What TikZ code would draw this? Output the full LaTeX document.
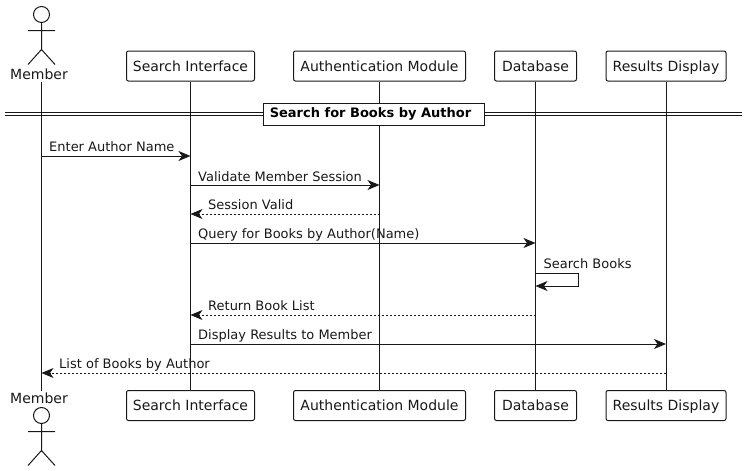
\documentclass[tikz,border=0pt]{standalone}
\usepackage{fontspec}
\setmainfont{DejaVu Sans}
\usetikzlibrary{arrows.meta}
\definecolor{ink}{HTML}{181818}
\pgfdeclarelayer{lines}
\pgfsetlayers{lines,main}
\tikzset{
  x=1pt,y=-1pt,
  partbox/.style={draw=ink,fill=white,rounded corners=2pt,line width=1pt,minimum height=30pt,inner xsep=0pt,inner ysep=0pt,text height=13pt,text depth=3pt,font=\fontsize{14}{16}\selectfont,text=ink},
  actorname/.style={font=\fontsize{14}{16}\selectfont,text=ink,inner sep=0pt},
  msglabel/.style={font=\fontsize{13}{15}\selectfont,text=ink,inner sep=0pt,anchor=base west},
  lifeline/.style={draw=ink,line width=1pt},
  tip/.style={-{Stealth[length=12pt,width=10pt,inset=3.5pt]}},
  msg/.style={draw=ink,line width=1pt,tip},
  reply/.style={draw=ink,line width=.8pt,dash pattern=on 2pt off 2pt,tip},
  stick/.style={draw=ink,line width=1pt},
  dividerbox/.style={draw=ink,fill=white,line width=1pt,minimum width=221pt,minimum height=22pt,inner sep=0pt,font=\fontsize{13}{15}\selectfont\bfseries,text=black},
}
\begin{document}
\begin{tikzpicture}
\useasboundingbox (0,0) rectangle (748,471);
% participants
\node[actorname] (memberTop) at (39,74.5) {Member};
\node[actorname] (memberBot) at (39,398) {Member};
\coordinate (memberLineTop) at (41.5,82);
\coordinate (memberLineBot) at (41.5,390.5);
\node[partbox,minimum width=128pt] (searchTop) at (190.5,66) {Search Interface};
\node[partbox,minimum width=172pt] (authTop) at (379.5,66) {Authentication Module};
\node[partbox,minimum width=82pt] (dbTop) at (535.5,66) {Database};
\node[partbox,minimum width=120pt] (resTop) at (666,66) {Results Display};
\node[partbox,minimum width=128pt] (searchBot) at (190.5,405.5) {Search Interface};
\node[partbox,minimum width=172pt] (authBot) at (379.5,405.5) {Authentication Module};
\node[partbox,minimum width=82pt] (dbBot) at (535.5,405.5) {Database};
\node[partbox,minimum width=120pt] (resBot) at (666,405.5) {Results Display};
% lifelines
\begin{pgfonlayer}{lines}
\path[lifeline] (memberLineTop) -- (memberLineBot);
\path[lifeline] (searchTop) -- (searchBot);
\path[lifeline] (authTop) -- (authBot);
\path[lifeline] (dbTop) -- (dbBot);
\path[lifeline] (resTop) -- (resBot);
\end{pgfonlayer}
% actors
\draw[stick] (41.5,14.5) circle[radius=8];
\draw[stick] (41.5,22.5) -- (41.5,49.5) (28,30.5) -- (55,30.5) (28,64.5) -- (41.5,49.5) -- (55,64.5);
\draw[stick] (41.5,415.5) circle[radius=8];
\draw[stick] (41.5,423.5) -- (41.5,450.5) (28,431.5) -- (55,431.5) (28,465.5) -- (41.5,450.5) -- (55,465.5);
% divider
\coordinate (divL) at (5,114);
\coordinate (divR) at (742,114);
\draw[draw=ink,line width=.8pt] ([yshift=-1.6pt]divL) -- ([yshift=-1.6pt]divR) ([yshift=1.6pt]divL) -- ([yshift=1.6pt]divR);
\node[dividerbox] (divider) at (373.5,114) {Search for Books by Author\hspace*{6pt}};
% rows
\coordinate (r1) at (0,156);
\coordinate (r2) at (0,185);
\coordinate (r3) at (0,214);
\coordinate (r4) at (0,243);
\coordinate (r5a) at (0,273);
\coordinate (r5b) at (0,286);
\coordinate (r6) at (0,315);
\coordinate (r7) at (0,344);
\coordinate (r8) at (0,373);
\coordinate (loopA) at (578.5,273);
\coordinate (loopB) at (578.5,286);
% messages
\draw[msg] (memberLineTop |- r1) -- (searchTop |- r1);
\draw[msg] (searchTop |- r2) -- (authTop |- r2);
\draw[reply] (authTop |- r3) -- (searchTop |- r3);
\draw[msg] (searchTop |- r4) -- (dbTop |- r4);
\draw[msg] (dbTop |- r5a) -- (loopA) -- (loopB) -- (dbTop |- r5b);
\draw[reply] (dbTop |- r6) -- (searchTop |- r6);
\draw[msg] (searchTop |- r7) -- (resTop |- r7);
\draw[reply] (resTop |- r8) -- (memberLineTop |- r8);
% labels
\node[msglabel] (l1) at (49,151) {Enter Author Name};
\node[msglabel] (l2) at (198,181) {Validate Member Session};
\node[msglabel] (l3) at (208,209) {Session Valid};
\node[msglabel] (l4) at (198,238.5) {Query for Books by Author(Name)};
\node[msglabel] (l5) at (543.5,268) {Search Books};
\node[msglabel] (l6) at (208,310) {Return Book List};
\node[msglabel] (l7) at (198,339) {Display Results to Member};
\node[msglabel] (l8) at (59,368) {List of Books by Author};
\end{tikzpicture}
\end{document}
